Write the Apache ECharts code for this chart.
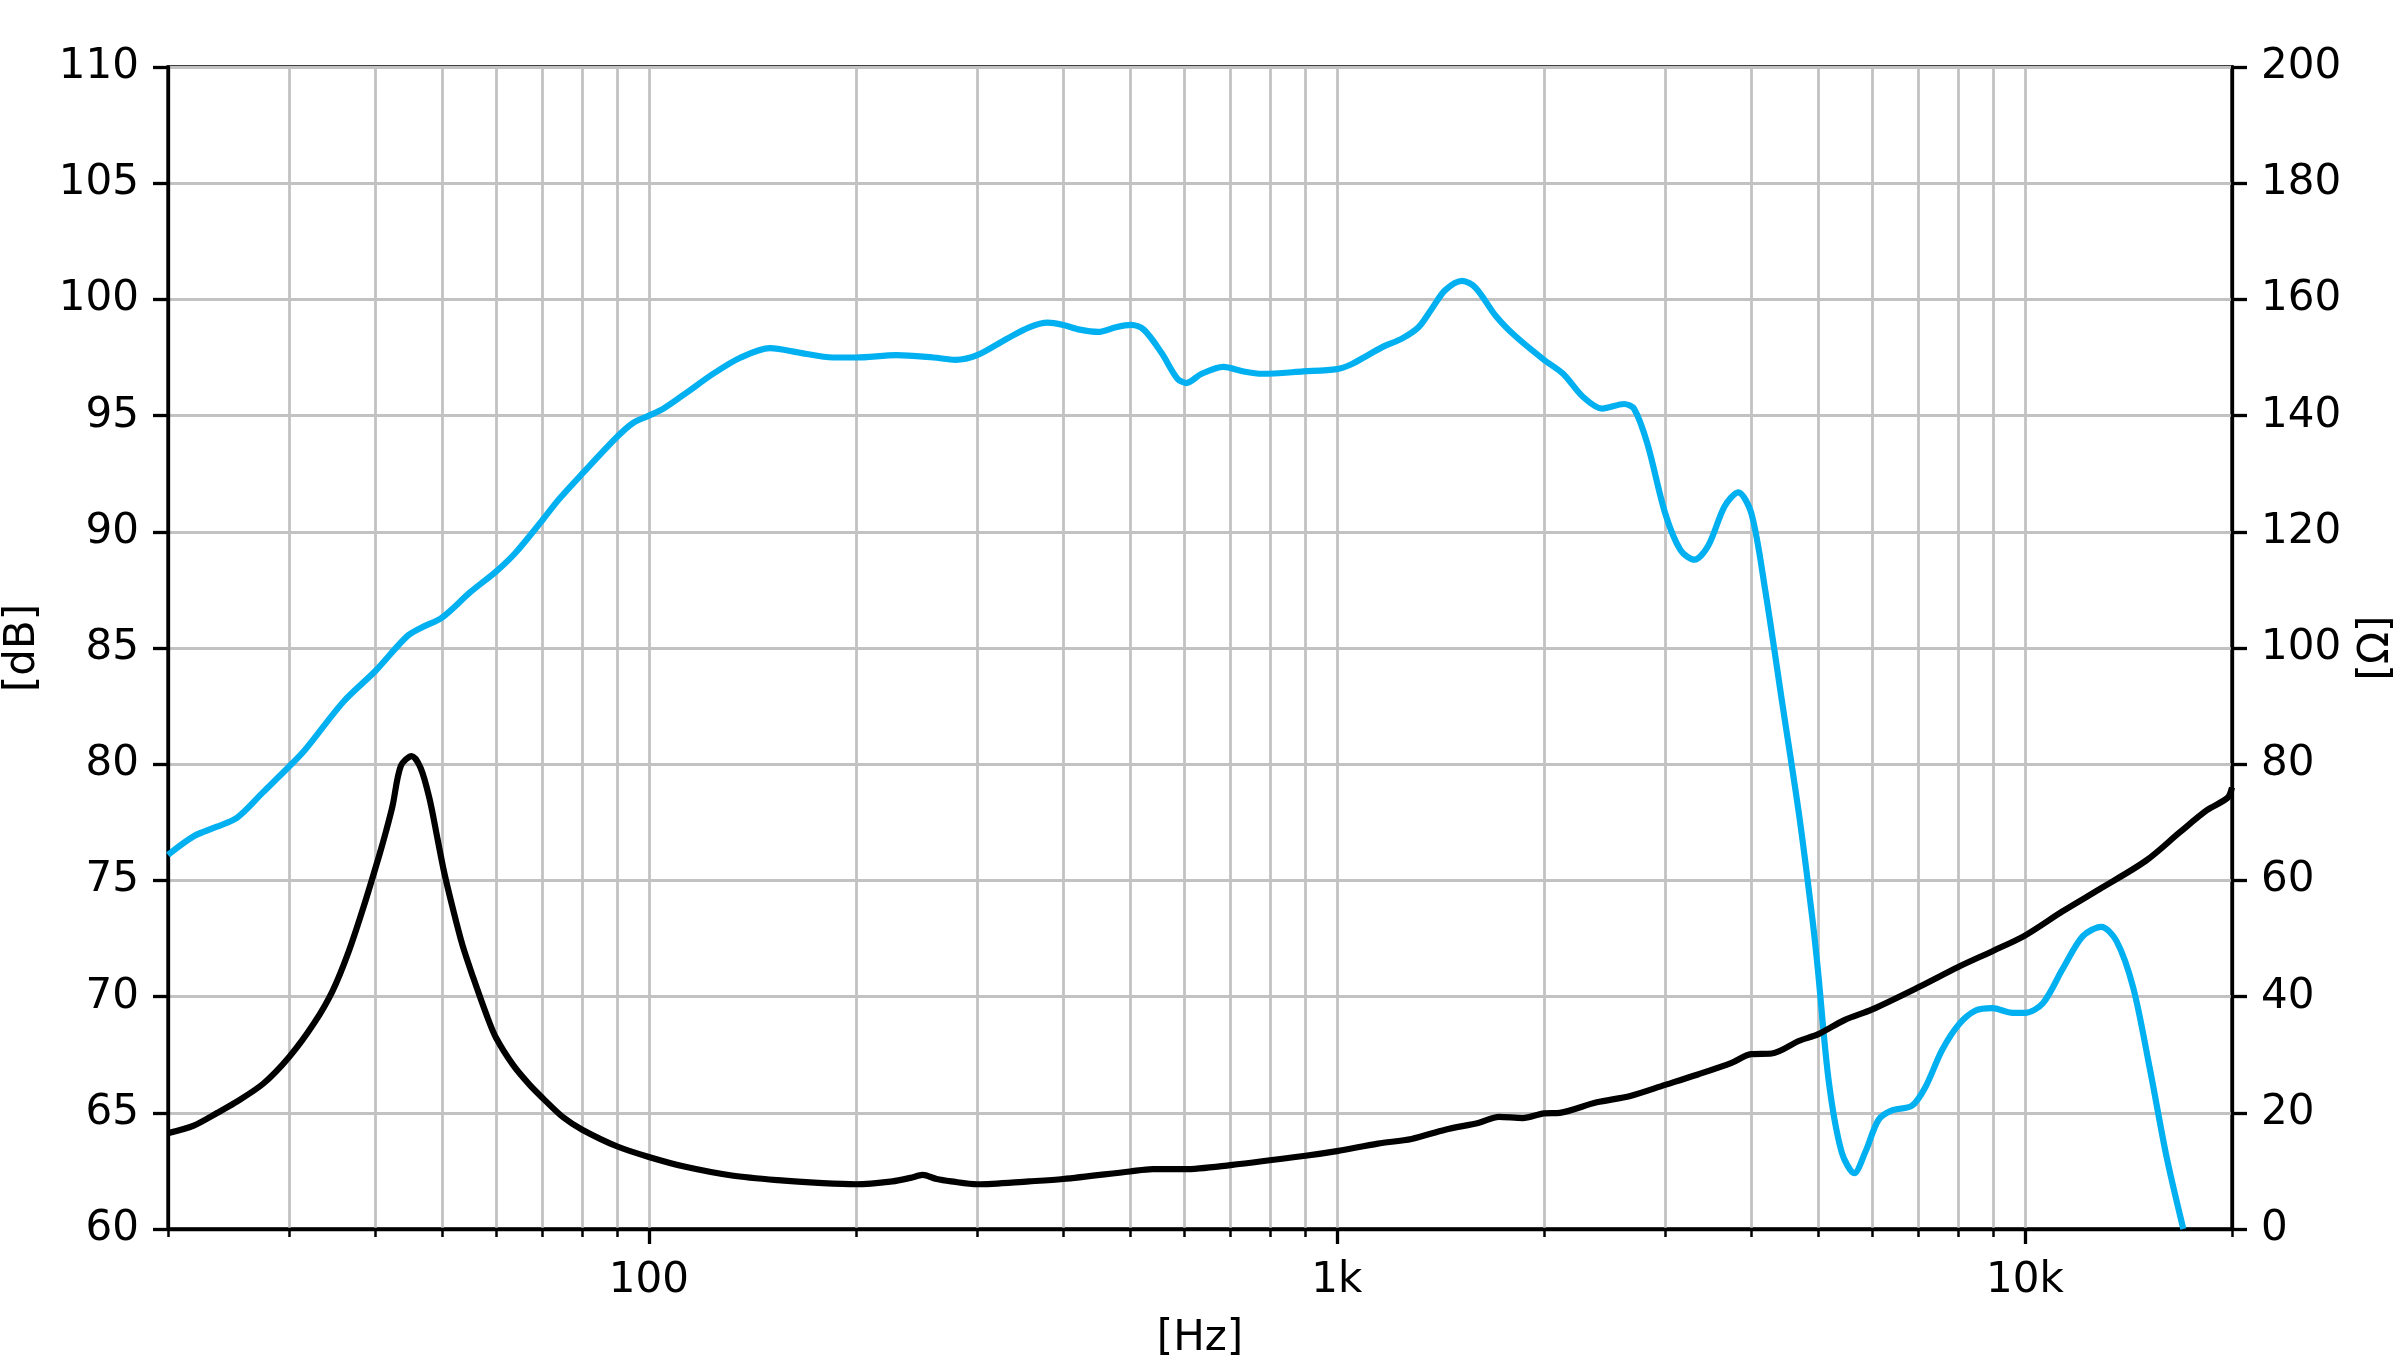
<!DOCTYPE html>
<html>
<head>
<meta charset="utf-8">
<script src="https://cdn.jsdelivr.net/npm/echarts@6/dist/echarts.min.js"></script>
<style>
html,body{margin:0;padding:0;background:#fff;overflow:hidden;}
#c{width:2400px;height:1367px;}
</style>
</head>
<body>
<div id="c"></div>
<script>
// ---- Frequency response (SPL, left axis, dB) ----
const splFreq = [20,21.8,23.5,25.2,27.5,30,31.6,36,40,44.5,46.9,50,55,60,64,70,74,80,90,95,
  100,105,113,124,136,150,166,185,200,229,259,279,300,331,357,380,400,423,450,477,502,524,556,586,604,636,684,732,779,894,
  1000,1048,1109,1174,1241,1314,1374,1437,1521,1591,1701,1820,2000,2132,2280,2430,2614,2703,2826,3000,3160,3310,3465,3661,3831,4003,4193,4441,4703,4917,
  5000,5190,5417,5650,5860,6128,6409,6851,7166,7580,8016,8480,8970,9593,10000,10613,11352,12140,12910,13584,14365,15192,16067,16993];
const splDb = [76.1,76.9,77.3,77.7,78.8,79.9,80.6,82.7,84.0,85.5,85.9,86.3,87.4,88.3,89.1,90.5,91.4,92.5,94.1,94.7,
  95.0,95.3,95.95,96.8,97.5,97.9,97.7,97.5,97.5,97.6,97.5,97.4,97.6,98.3,98.8,99.0,98.9,98.7,98.6,98.8,98.9,98.7,97.7,96.6,96.4,96.8,97.1,96.9,96.8,96.9,
  97.0,97.2,97.6,98.0,98.3,98.8,99.6,100.4,100.8,100.5,99.3,98.4,97.4,96.8,95.8,95.3,95.5,95.3,93.8,90.8,89.2,88.8,89.4,91.1,91.7,90.8,87.5,82.6,77.7,73.2,
  71.2,66.3,63.3,62.4,63.3,64.7,65.1,65.3,66.1,67.7,68.8,69.4,69.5,69.3,69.3,69.7,71.2,72.6,73.0,72.4,70.4,66.9,63.1,60.0];

// ---- Impedance (right axis, Ohm) ----
const impFreq = [20,21.8,23.6,25,27.5,30,32.6,34.7,36.6,38.5,40.6,41.5,42.4,43.6,45.2,46.6,48.0,49.3,50.4,51.9,53.6,55.5,58.1,59.9,63.5,67.1,70,75.1,80,90,
  100,113,132,154,179,200,226,240,250,262,275,300,357,400,500,540,600,700,900,
  1000,1147,1284,1437,1609,1720,1862,2000,2108,2386,2670,3000,3347,3747,4000,4287,4700,
  5000,5475,6000,7000,8000,9000,10000,11352,12840,15000,16800,18400,19700,20000];
const impOhm = [16.5,17.8,20,21.7,25,29.6,35.4,41,47.7,55.5,64.5,68.5,72.8,79.7,81.4,79.3,74.0,67.1,61.4,55.1,48.8,43.4,36.8,33.0,28.2,24.8,22.6,19.2,17.1,14.2,
  12.4,10.7,9.2,8.4,7.9,7.7,8.2,8.8,9.3,8.6,8.2,7.7,8.2,8.6,9.9,10.3,10.3,11.0,12.6,
  13.4,14.7,15.5,17.1,18.3,19.3,19.1,19.9,20.0,21.8,22.9,24.8,26.6,28.6,30.1,30.2,32.4,
  33.5,36,37.8,41.6,45.1,47.9,50.5,54.7,58.5,63.4,68.3,72.1,74.2,76];

// ---- Axis ticks / labels ----
const xRange = [20, 20000];
const xGridTicks = [20,30,40,50,60,70,80,90,100,200,300,400,500,600,700,800,900,
  1000,2000,3000,4000,5000,6000,7000,8000,9000,10000,20000];
const xMajorTicks = [100, 1000, 10000];
const xMajorLabels = ['100', '1k', '10k'];
const dbRange = [60, 110], dbStep = 5;
const ohmRange = [0, 200], ohmStep = 20;
const xName = '[Hz]', yLeftName = '[dB]', yRightName = '[Ω]';

const FONT = 'DejaVu Sans';
const txt = {fontFamily: FONT, fontSize: 42, color: '#000'};
const GRIDC = '#c2c2c2';

function majorLabel(v) {
  for (let i = 0; i < xMajorTicks.length; i++) {
    if (Math.abs(v - xMajorTicks[i]) / xMajorTicks[i] < 0.01) return xMajorLabels[i];
  }
  return '';
}

const chart = echarts.init(document.getElementById('c'), null, {renderer: 'canvas', width: 2400, height: 1367});
chart.setOption({
  animation: false,
  backgroundColor: '#ffffff',
  grid: {left: 168, top: 67, width: 2064, height: 1162, show: true, borderColor: '#000', borderWidth: 3.3,
         backgroundColor: 'transparent', containLabel: false, outerBoundsMode: 'none'},
  xAxis: [
    {
      type: 'log', logBase: 10, min: xRange[0], max: xRange[1], position: 'bottom',
      axisLine: {show: true, onZero: false, lineStyle: {color: '#000', width: 3.3}},
      axisTick: {show: true, customValues: xGridTicks, length: 8, lineStyle: {color: '#000', width: 2.5}},
      axisLabel: {show: false},
      splitLine: {show: true, lineStyle: {color: GRIDC, width: 2.8}},
      minorTick: {show: false}, minorSplitLine: {show: false}
    },
    {
      type: 'log', logBase: 10, min: xRange[0], max: xRange[1], position: 'bottom',
      axisLine: {show: false, onZero: false},
      axisTick: {show: true, customValues: xMajorTicks, length: 15, lineStyle: {color: '#000', width: 3.3}},
      axisLabel: {show: true, customValues: xMajorTicks, formatter: majorLabel, margin: 31, ...txt},
      splitLine: {show: false},
      name: xName, nameLocation: 'middle', nameGap: 89, nameTextStyle: txt
    }
  ],
  yAxis: [
    {
      type: 'value', min: dbRange[0], max: dbRange[1], interval: dbStep, position: 'left',
      axisLine: {show: true, onZero: false, lineStyle: {color: '#000', width: 3.3}},
      axisTick: {show: true, length: 15, lineStyle: {color: '#000', width: 3.3}},
      axisLabel: {margin: 29, ...txt},
      splitLine: {show: true, lineStyle: {color: GRIDC, width: 2.8}},
      name: yLeftName, nameLocation: 'middle', nameGap: 124, nameRotate: 90, nameTextStyle: txt
    },
    {
      type: 'value', min: ohmRange[0], max: ohmRange[1], interval: ohmStep, position: 'right',
      axisLine: {show: true, onZero: false, lineStyle: {color: '#000', width: 3.3}},
      axisTick: {show: true, length: 15, lineStyle: {color: '#000', width: 3.3}},
      axisLabel: {margin: 29, ...txt},
      splitLine: {show: false},
      name: yRightName, nameLocation: 'middle', nameGap: 124, nameRotate: 90, nameTextStyle: txt
    }
  ],
  series: [
    {
      name: 'SPL', type: 'line', xAxisIndex: 0, yAxisIndex: 0,
      data: splFreq.map((f, i) => [f, splDb[i]]),
      showSymbol: false, smooth: 0.3, clip: true,
      lineStyle: {color: '#00B0F0', width: 6.2}, z: 3
    },
    {
      name: 'Impedance', type: 'line', xAxisIndex: 0, yAxisIndex: 1,
      data: impFreq.map((f, i) => [f, impOhm[i]]),
      showSymbol: false, smooth: 0.3, clip: true,
      lineStyle: {color: '#000000', width: 6.2}, z: 4
    }
  ]
});
</script>
</body>
</html>
